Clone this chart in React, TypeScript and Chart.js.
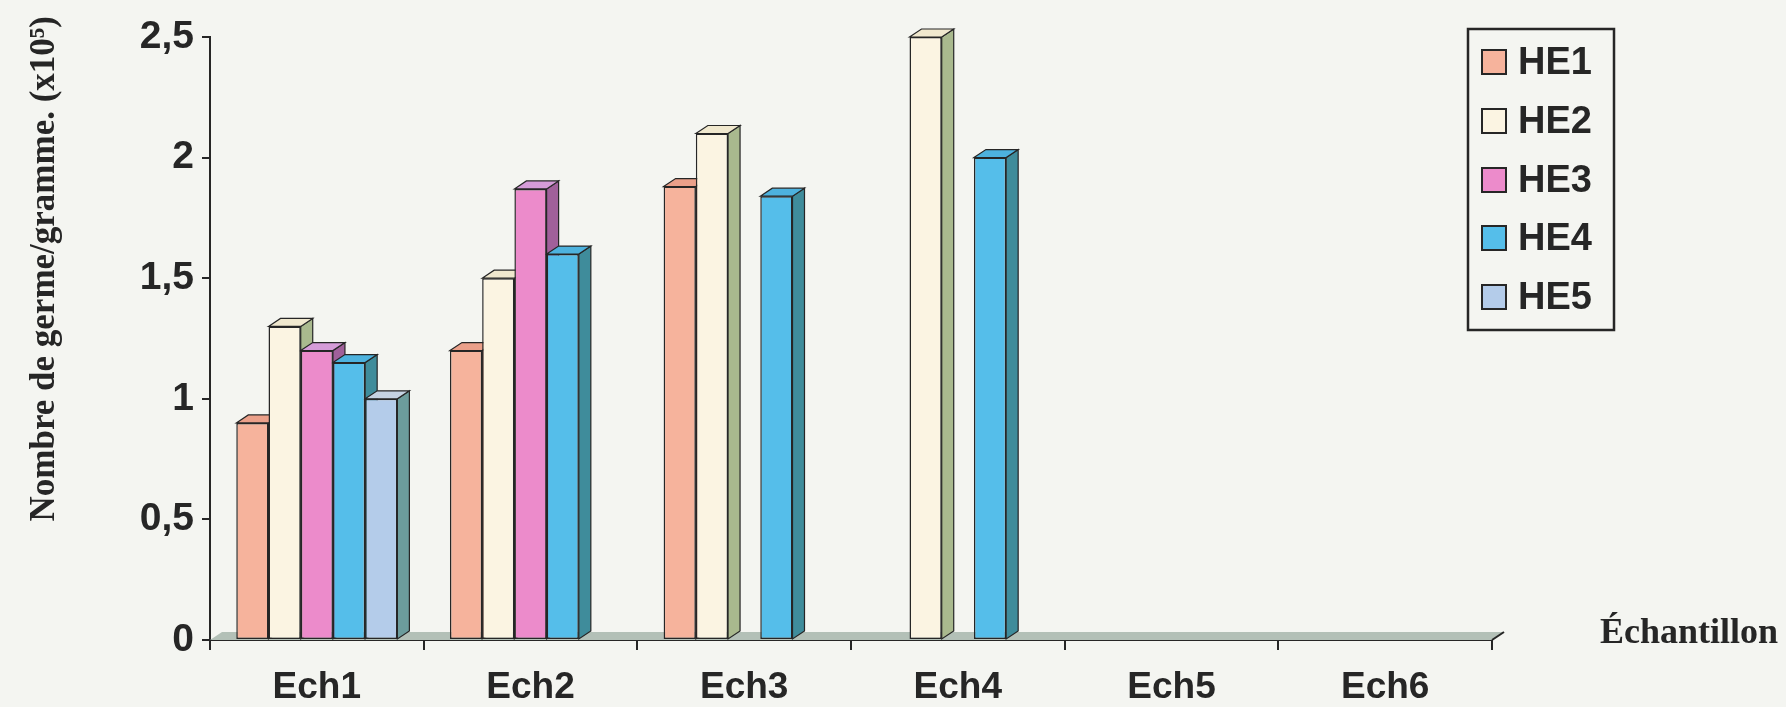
import React, { useEffect, useRef } from "react";
import { Chart, registerables } from "chart.js";

Chart.register(...registerables);

const categories = ["Ech1", "Ech2", "Ech3", "Ech4", "Ech5", "Ech6"];
const seriesNames = ["HE1", "HE2", "HE3", "HE4", "HE5"];
const he1 = [0.9, 1.2, 1.88, null, null, null];
const he2 = [1.3, 1.5, 2.1, 2.5, null, null];
const he3 = [1.2, 1.87, null, null, null, null];
const he4 = [1.15, 1.6, 1.84, 2.0, null, null];
const he5 = [1.0, null, null, null, null, null];
const seriesValues = [he1, he2, he3, he4, he5];
const yTicks = [0, 0.5, 1, 1.5, 2, 2.5];
const yTitle = "Nombre de germe/gramme. (x10\u2075)";
const xTitle = "\u00C9chantillon";

const frontColors = ["#F6B39C", "#FBF4E2", "#EC8BCB", "#55BEEA", "#B4CCEA"];
const topColors = ["#EBA08A", "#F0E8CE", "#D59CD8", "#4DB2DE", "#C6D3E3"];
const sideColors = ["#B07F70", "#A9B98E", "#A0609A", "#3F8C9B", "#6C9C9C"];

const DX = 12;
const DY = 8;
const INK = "#262626";
const SANS = "'Liberation Sans', Arial, sans-serif";
const SERIF = "'Liberation Serif', 'Times New Roman', serif";

function poly(ctx: CanvasRenderingContext2D, pts: number[][], fill: string) {
  ctx.beginPath();
  ctx.moveTo(pts[0][0], pts[0][1]);
  for (let i = 1; i < pts.length; i++) ctx.lineTo(pts[i][0], pts[i][1]);
  ctx.closePath();
  ctx.fillStyle = fill;
  ctx.fill();
  ctx.lineWidth = 1.2;
  ctx.strokeStyle = INK;
  ctx.stroke();
}

const threeDPlugin = {
  id: "threeD",
  beforeDatasetsDraw(chart: any) {
    const ctx: CanvasRenderingContext2D = chart.ctx;
    const { left, right, bottom } = chart.chartArea;
    ctx.save();
    // floor
    ctx.beginPath();
    ctx.moveTo(left, bottom);
    ctx.lineTo(right, bottom);
    ctx.lineTo(right + DX, bottom - DY);
    ctx.lineTo(left + DX, bottom - DY);
    ctx.closePath();
    ctx.fillStyle = "#B3C0B7";
    ctx.fill();
    ctx.beginPath();
    ctx.moveTo(right, bottom);
    ctx.lineTo(right + DX, bottom - DY);
    ctx.lineWidth = 2;
    ctx.strokeStyle = INK;
    ctx.stroke();
    // side and top faces
    chart.data.datasets.forEach((ds: any, i: number) => {
      const meta = chart.getDatasetMeta(i);
      meta.data.forEach((bar: any, j: number) => {
        if (ds.data[j] == null) return;
        const p = bar.getProps(["x", "y", "base", "width"], true);
        const l = p.x - p.width / 2;
        const r = p.x + p.width / 2;
        poly(ctx, [[r, p.y], [r + DX, p.y - DY], [r + DX, p.base - DY], [r, p.base]], sideColors[i]);
        poly(ctx, [[l, p.y], [l + DX, p.y - DY], [r + DX, p.y - DY], [r, p.y]], topColors[i]);
      });
    });
    ctx.restore();
  },
  afterDraw(chart: any) {
    const ctx: CanvasRenderingContext2D = chart.ctx;
    ctx.save();
    // y title
    ctx.translate(54, 16);
    ctx.rotate(-Math.PI / 2);
    ctx.font = `bold 35px ${SERIF}`;
    ctx.fillStyle = INK;
    ctx.textAlign = "right";
    ctx.textBaseline = "alphabetic";
    ctx.fillText(yTitle, 0, 0);
    ctx.restore();

    // x title
    ctx.save();
    ctx.font = `bold 36px ${SERIF}`;
    ctx.fillStyle = INK;
    ctx.textAlign = "left";
    ctx.textBaseline = "alphabetic";
    ctx.fillText(xTitle, 1600, 643);
    ctx.restore();

    // legend
    ctx.save();
    const bx = 1468, by = 29, bw = 146, bh = 301;
    ctx.fillStyle = "#F4F5F1";
    ctx.fillRect(bx, by, bw, bh);
    ctx.lineWidth = 2.5;
    ctx.strokeStyle = INK;
    ctx.strokeRect(bx, by, bw, bh);
    const itemY = [62, 121, 180, 238, 297];
    chart.data.datasets.forEach((ds: any, i: number) => {
      const cy = itemY[i];
      ctx.fillStyle = frontColors[i];
      ctx.fillRect(1482, cy - 12, 24, 24);
      ctx.lineWidth = 2;
      ctx.strokeStyle = INK;
      ctx.strokeRect(1482, cy - 12, 24, 24);
      ctx.font = `bold 38px ${SANS}`;
      ctx.fillStyle = INK;
      ctx.textAlign = "left";
      ctx.textBaseline = "middle";
      ctx.fillText(ds.label, 1518, cy + 2);
    });
    ctx.restore();
  },
};

export default function App() {
  const ref = useRef<HTMLCanvasElement>(null);
  useEffect(() => {
    if (!ref.current) return;
    const chart = new Chart(ref.current, {
      type: "bar",
      data: {
        labels: categories,
        datasets: seriesValues.map((vals, i) => ({
          label: seriesNames[i],
          data: vals,
          backgroundColor: frontColors[i],
          borderColor: INK,
          borderWidth: 1.5,
          borderSkipped: false,
          categoryPercentage: 0.754,
          barPercentage: 1,
        })),
      },
      options: {
        animation: false,
        responsive: true,
        maintainAspectRatio: false,
        layout: { padding: { top: 37, right: 294, left: 0, bottom: 0 } },
        plugins: { legend: { display: false }, tooltip: { enabled: false }, title: { display: false } },
        scales: {
          x: {
            offset: true,
            grid: { offset: true, drawOnChartArea: false, drawTicks: true, tickLength: 10, color: INK, lineWidth: 2 },
            border: { display: true, color: INK, width: 2 },
            ticks: { font: { family: SANS, weight: "bold", size: 37 }, color: INK, padding: 16, maxRotation: 0 },
            afterFit: (s: any) => { s.height = 67; },
          },
          y: {
            min: 0,
            max: 2.5,
            afterBuildTicks: (s: any) => { s.ticks = yTicks.map((v) => ({ value: v })); },
            ticks: {
              font: { family: SANS, weight: "bold", size: 39 },
              color: INK,
              padding: 8,
              callback: (v: any) => String(v).replace(".", ","),
            },
            grid: { drawOnChartArea: false, drawTicks: true, tickLength: 8, color: INK, lineWidth: 2 },
            border: { display: true, color: INK, width: 2 },
            afterFit: (s: any) => { s.width = 210; },
          },
        },
      },
      plugins: [threeDPlugin],
    } as any);
    return () => chart.destroy();
  }, []);
  return (
    <div style={{ position: "fixed", left: 0, top: 0, width: 1786, height: 707, background: "#F4F5F1" }}>
      <canvas ref={ref} />
    </div>
  );
}
